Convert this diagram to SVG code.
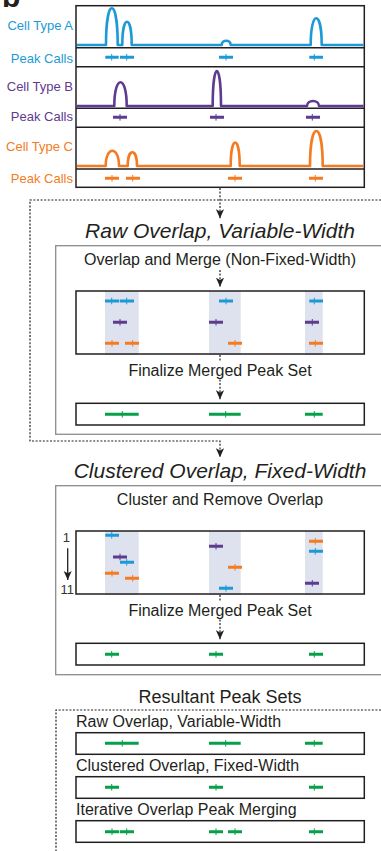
<svg xmlns="http://www.w3.org/2000/svg" width="381" height="851" viewBox="0 0 381 851">
<defs>
<style>
text{font-family:"Liberation Sans",Arial,sans-serif;fill:#231F20}
.lb{font-size:13px;text-anchor:end}
.t16{font-size:16px}
.mid{text-anchor:middle}
.it{font-style:italic;font-size:21px;text-anchor:middle}
.frame{fill:none;stroke:#231F20;stroke-width:1.5}
.gray{fill:none;stroke:#8C8C8C;stroke-width:1.3}
.sig{fill:none;stroke-width:2.6;stroke-linejoin:round}
.seg{fill:none;stroke-width:3}
.tk{fill:none;stroke-width:1}
.B{stroke:#1C9AD6}.P{stroke:#5E3B91}.O{stroke:#F37C23}.G{stroke:#07A04A}
.tB{fill:#1C9AD6}.tP{fill:#5E3B91}.tO{fill:#F37C23}
.shade{fill:#DEE2EE}
.dot{fill:none;stroke:#231F20;stroke-width:1.2;stroke-dasharray:2,1.6}
</style>
<marker id="ah" markerUnits="userSpaceOnUse" viewBox="0 0 10 10" refX="10" refY="5" markerWidth="9" markerHeight="9" orient="auto">
<path d="M0,0.5 L10,5 L0,9.5 L2.5,5 Z" fill="#231F20"/>
</marker>
</defs>

<text x="2" y="7" style="font-size:30px;font-weight:bold">b</text>

<g id="signal-panel">
<rect class="frame" x="76" y="5.7" width="288.3" height="181.6"/>
<path class="frame" d="M76,47.7H364.3M76,66.7H364.3M76,108.3H364.3M76,127.3H364.3M76,169H364.3"/>
<text class="lb tB" x="73" y="30">Cell Type A</text>
<text class="lb tB" x="73" y="62.7">Peak Calls</text>
<text class="lb tP" x="73" y="90.7">Cell Type B</text>
<text class="lb tP" x="73" y="120.7">Peak Calls</text>
<text class="lb tO" x="73" y="151">Cell Type C</text>
<text class="lb tO" x="73" y="183.3">Peak Calls</text>
<path class="sig B" d="M77,45H106C106,-3.9 117.7,-3.9 117.7,45H122.3C122.3,13.9 131.7,13.9 131.7,45H221.7C221.7,39.3 230.7,39.3 230.7,45H310.7C310.7,9.4 321.7,9.4 321.7,45H363.5"/>
<path class="sig P" d="M77,106H114.3C114.3,74.4 126.7,74.4 126.7,106H212.7C212.7,59.3 221,59.3 221,106H307C307,99.3 319,99.3 319,106H363.5"/>
<path class="sig O" d="M77,166H105.7C105.7,145.6 119,145.6 119,166H127.7C127.7,147.7 137,147.7 137,166H230.7C230.7,134.9 239.7,134.9 239.7,166H310C310,119.3 322.7,119.3 322.7,166H363.5"/>
<path class="seg B" d="M105.3,57.3H118.7M120,57.3H134M219,57.3H233M309.3,57.3H323"/>
<path class="tk B" d="M111.7,54V60.6M126.7,54V60.6M226,54V60.6M314.3,54V60.6"/>
<path class="seg P" d="M113,117.3H127M210,117.3H224M306,117.3H320"/>
<path class="tk P" d="M120,114V120.6M216,114V120.6M312.3,114V120.6"/>
<path class="seg O" d="M105,178.3H119M126,178.3H140M228,178.3H242M309,178.3H323"/>
<path class="tk O" d="M112,175V181.6M132.7,175V181.6M235,175V181.6M315.3,175V181.6"/>
</g>

<g id="raw-overlap">
<text class="it" x="220" y="237.7">Raw Overlap, Variable-Width</text>
<rect class="gray" x="55.7" y="245.7" width="340" height="188.6"/>
<text class="t16 mid" x="220" y="265">Overlap and Merge (Non-Fixed-Width)</text>
<rect class="shade" x="105" y="291" width="33.7" height="64"/>
<rect class="shade" x="209" y="291" width="31.7" height="64"/>
<rect class="shade" x="305" y="291" width="17.7" height="64"/>
<rect class="frame" x="76" y="291" width="288.3" height="63"/>
<path class="seg B" d="M105,301H119M119.7,301H134M219,301H233M309.3,301H323"/>
<path class="tk B" d="M111.7,297.7V304.3M126.7,297.7V304.3M226,297.7V304.3M314.3,297.7V304.3"/>
<path class="seg P" d="M113,322.3H127M209,322.3H223M305,322.3H319"/>
<path class="tk P" d="M120,319V325.6M216,319V325.6M312.3,319V325.6"/>
<path class="seg O" d="M105,343.3H119M125,343.3H139M228,343.3H242M309,343.3H323"/>
<path class="tk O" d="M112,340V346.6M132.7,340V346.6M235,340V346.6M315.3,340V346.6"/>
<text class="t16 mid" x="220" y="376">Finalize Merged Peak Set</text>
<rect class="frame" x="76" y="403.3" width="288.3" height="21.7"/>
<path class="seg G" d="M105,414.3H138.7M209,414.3H240.7M305,414.3H322.7"/>
<path class="tk G" d="M122.3,411V417.6M225.7,411V417.6M314.3,411V417.6"/>
</g>

<g id="clustered-overlap">
<text class="it" x="220" y="478.3">Clustered Overlap, Fixed-Width</text>
<rect class="gray" x="55.7" y="485.7" width="340" height="189"/>
<text class="t16 mid" x="220" y="505">Cluster and Remove Overlap</text>
<rect class="shade" x="105" y="531" width="33.7" height="64"/>
<rect class="shade" x="209" y="531" width="31.7" height="64"/>
<rect class="shade" x="305" y="531" width="17.7" height="64"/>
<rect class="frame" x="76" y="531" width="288.3" height="63"/>
<path class="seg B" d="M105.3,535.3H119M120,562.3H134M219,588.3H233M309,551.3H323"/>
<path class="tk B" d="M111.7,532V538.6M126.7,559V565.6M226,585V591.6M315.3,548V554.6"/>
<path class="seg P" d="M113,557H127M209,546.3H223M305,583.3H319"/>
<path class="tk P" d="M120,553.7V560.3M216,543V549.6M312.3,580V586.6"/>
<path class="seg O" d="M105,573.3H119M125,578.3H139M228,567.3H242M309,541.3H323"/>
<path class="tk O" d="M112,570V576.6M132.7,575V581.6M235,564V570.6M315.3,538V544.6"/>
<text x="70" y="541.7" style="font-size:13px;text-anchor:end;fill:#333">1</text>
<text x="74" y="594.3" style="font-size:13px;text-anchor:end;fill:#333">11</text>
<path d="M67.7,548.3V580" fill="none" stroke="#231F20" stroke-width="1.3" marker-end="url(#ah)"/>
<text class="t16 mid" x="220" y="616">Finalize Merged Peak Set</text>
<rect class="frame" x="76" y="643.3" width="288.3" height="21.7"/>
<path class="seg G" d="M105,654.3H119M209,654.3H223M309,654.3H323"/>
<path class="tk G" d="M111.7,651V657.6M216,651V657.6M314.3,651V657.6"/>
</g>

<g id="resultant-peak-sets">
<text class="mid" x="220" y="703.3" style="font-size:18px">Resultant Peak Sets</text>
<path class="dot" d="M381,710H56V851"/>
<text class="t16" x="76" y="727.3">Raw Overlap, Variable-Width</text>
<rect class="frame" x="76" y="732.7" width="288.3" height="21.6"/>
<path class="seg G" d="M105,743.3H138.7M209,743.3H240.7M305,743.3H322.7"/>
<path class="tk G" d="M122.3,740V746.6M225.7,740V746.6M314.3,740V746.6"/>
<text class="t16" x="76" y="771">Clustered Overlap, Fixed-Width</text>
<rect class="frame" x="76" y="776.7" width="288.3" height="21.6"/>
<path class="seg G" d="M105,787.3H119M209,787.3H223M309,787.3H323"/>
<path class="tk G" d="M111.7,784V790.6M216,784V790.6M314.3,784V790.6"/>
<text class="t16" x="76" y="815">Iterative Overlap Peak Merging</text>
<rect class="frame" x="76" y="820.7" width="288.3" height="21.6"/>
<path class="seg G" d="M105,831.7H119M119.7,831.7H134M209,831.7H223M228,831.7H242M309,831.7H323"/>
<path class="tk G" d="M112,828.4V835M126.7,828.4V835M216,828.4V835M235,828.4V835M314.3,828.4V835"/>
</g>

<g id="connectors">
<path class="dot" d="M220,188V218.3" marker-end="url(#ah)"/>
<path class="dot" d="M381,200H30V441H220V457.3" marker-end="url(#ah)"/>
<path class="dot" d="M220,270V286.7" marker-end="url(#ah)"/>
<path class="dot" d="M220,355V362"/>
<path class="dot" d="M220,379.5V399.3" marker-end="url(#ah)"/>
<path class="dot" d="M220,595V602"/>
<path class="dot" d="M220,619.5V639.3" marker-end="url(#ah)"/>
</g>
</svg>
